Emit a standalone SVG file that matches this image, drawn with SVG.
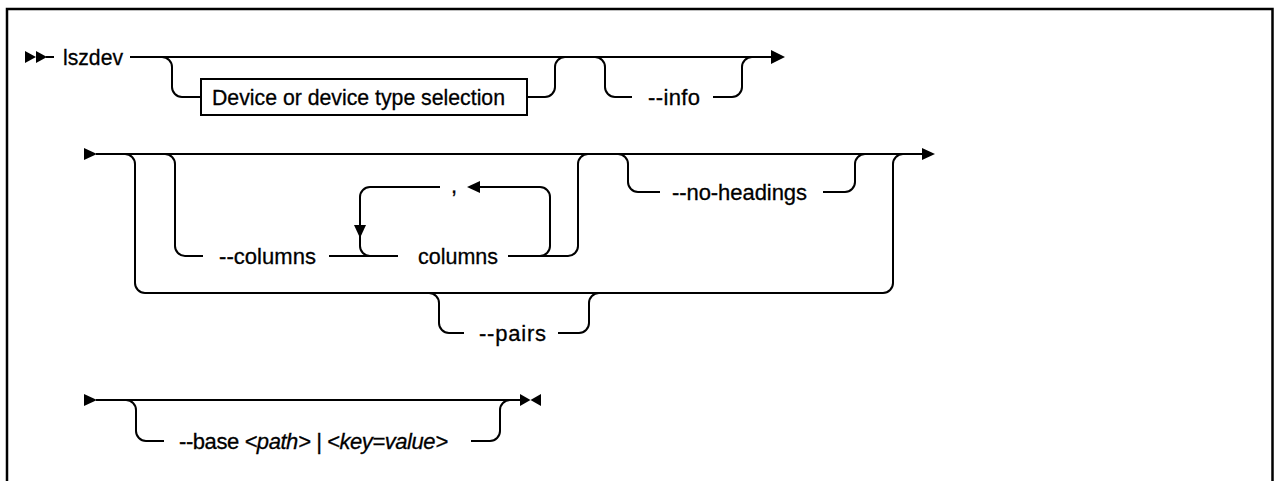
<svg xmlns="http://www.w3.org/2000/svg" width="1274" height="481" viewBox="0 0 1274 481">
<style>
.l{fill:none;stroke:#000;stroke-width:2}
.t{font-family:"Liberation Sans",Arial,sans-serif;font-size:22px;fill:#000;stroke:#000;stroke-width:0.3}
.i{font-style:italic}
.a{fill:#000}
</style>
<rect width="1274" height="481" fill="#fff"/>
<g id="frame">
<path d="M7,481 V9 H1272.5 V481" fill="none" stroke="#000" stroke-width="2.5"/>
</g>
<g id="connectors">
<polygon class="a" points="25,51 36,57 25,63"/>
<polygon class="a" points="36,51 47,57 36,63"/>
<path class="l" d="M46,57 H54"/>
<path class="l" d="M130,57 H772"/>
<path class="l" d="M162,57 A10,10 0 0 1 172,67 V87 A10,10 0 0 0 182,97 H201"/>
<path class="l" d="M527,97 H545 A10,10 0 0 0 555,87 V67 A10,10 0 0 1 565,57"/>
<path class="l" d="M595,57 A10,10 0 0 1 605,67 V87 A10,10 0 0 0 615,97 H632"/>
<path class="l" d="M713,97 H732 A10,10 0 0 0 742,87 V67 A10,10 0 0 1 752,57"/>
<polygon class="a" points="771,50 785,57 771,64"/>
<polygon class="a" points="84,148 97,154 84,160"/>
<path class="l" d="M96,154 H924"/>
<polygon class="a" points="922,148 935,154 922,160"/>
<path class="l" d="M125,154 A10,10 0 0 1 135,164 V283 A10,10 0 0 0 145,293 H883 A10,10 0 0 0 893,283 V164 A10,10 0 0 1 903,154"/>
<path class="l" d="M165,154 A10,10 0 0 1 175,164 V246 A10,10 0 0 0 185,256 H203"/>
<path class="l" d="M329,256 H398"/>
<path class="l" d="M508,256 H568 A10,10 0 0 0 578,246 V164 A10,10 0 0 1 588,154"/>
<path class="l" d="M378,256 H370 A10,10 0 0 1 360,246 V197 A10,10 0 0 1 370,187 H440"/>
<polygon class="a" points="354,225 366,225 360,238"/>
<path class="l" d="M479,187 H540 A10,10 0 0 1 550,197 V246 A10,10 0 0 1 540,256 H530"/>
<polygon class="a" points="467,187 480,181 480,193"/>
<path class="l" d="M618,154 A10,10 0 0 1 628,164 V182 A10,10 0 0 0 638,192 H660"/>
<path class="l" d="M823,192 H845 A10,10 0 0 0 855,182 V164 A10,10 0 0 1 865,154"/>
<path class="l" d="M429,293 A10,10 0 0 1 439,303 V323 A10,10 0 0 0 449,333 H464"/>
<path class="l" d="M558,333 H579 A10,10 0 0 0 589,323 V303 A10,10 0 0 1 599,293"/>
<polygon class="a" points="84,394 97,400 84,406"/>
<path class="l" d="M96,400 H522"/>
<polygon class="a" points="520,394 530.5,400 520,406"/>
<polygon class="a" points="541,394 530.5,400 541,406"/>
<path class="l" d="M126,400 A10,10 0 0 1 136,410 V431 A10,10 0 0 0 146,441 H164"/>
<path class="l" d="M471,441 H490 A10,10 0 0 0 500,431 V410 A10,10 0 0 1 510,400"/>
</g>
<g id="n-lszdev"><text class="t" x="63" y="65" textLength="60" lengthAdjust="spacingAndGlyphs">lszdev</text></g>
<g id="n-device">
<rect x="201" y="79" width="326" height="36" fill="#fff" stroke="#000" stroke-width="2"/>
<text class="t" x="212" y="104.5" textLength="293" lengthAdjust="spacingAndGlyphs">Device or device type selection</text>
</g>
<g id="n-info"><text class="t" x="648" y="105" textLength="52" lengthAdjust="spacing">--info</text></g>
<g id="n-columns-opt"><text class="t" x="219" y="264" textLength="97" lengthAdjust="spacing">--columns</text></g>
<g id="n-columns"><text class="t" x="418" y="264" textLength="80" lengthAdjust="spacingAndGlyphs">columns</text></g>
<g id="n-comma"><text class="t" x="451" y="193">,</text></g>
<g id="n-noheadings"><text class="t" x="672" y="200" textLength="135" lengthAdjust="spacing">--no-headings</text></g>
<g id="n-pairs"><text class="t" x="479" y="341" textLength="67" lengthAdjust="spacing">--pairs</text></g>
<g id="n-base"><text class="t" x="179" y="449" textLength="269" lengthAdjust="spacing">--base <tspan class="i">&lt;path&gt; | &lt;key=value&gt;</tspan></text></g>
</svg>
